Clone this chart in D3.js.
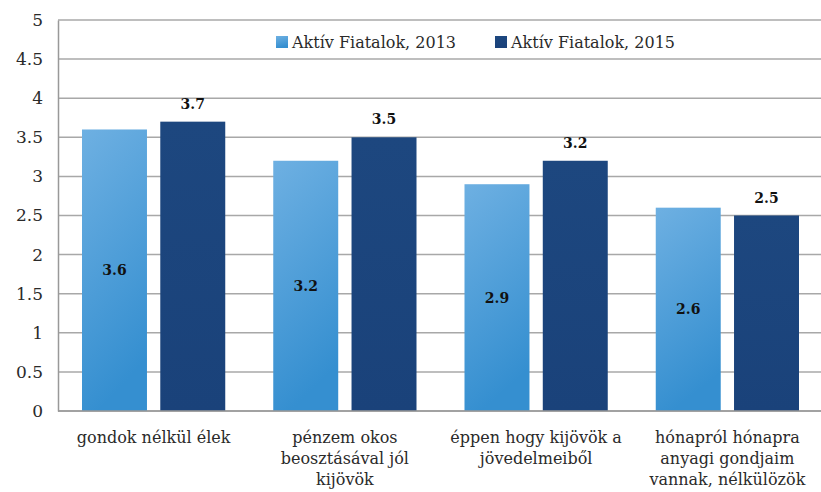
<!DOCTYPE html>
<html>
<head>
<meta charset="utf-8">
<script src="https://cdn.jsdelivr.net/npm/d3@7/dist/d3.min.js"></script>
<style>
html,body{margin:0;padding:0;background:#fff;}
svg{display:block;}
svg text{font-family:"DejaVu Serif", serif;}
</style>
</head>
<body>
<svg id="chart" width="821" height="492"></svg>
<script>
const categories = [
  ["gondok nélkül élek"],
  ["pénzem okos", "beosztásával jól", "kijövök"],
  ["éppen hogy kijövök a", "jövedelmeiből"],
  ["hónapról hónapra", "anyagi gondjaim", "vannak, nélkülözök"]
];
const seriesNames = ["Aktív Fiatalok, 2013", "Aktív Fiatalok, 2015"];
const values2013 = [3.6, 3.2, 2.9, 2.6];
const values2015 = [3.7, 3.5, 3.2, 2.5];
const yTicks = [0, 0.5, 1, 1.5, 2, 2.5, 3, 3.5, 4, 4.5, 5];

const svg = d3.select("#chart");
const font = "DejaVu Serif";
const margin = {left: 58, top: 20, right: -2, bottom: 81};
const W = 821, H = 492;
const x0 = margin.left, x1 = W - margin.right;
const yTop = margin.top, yBot = H - margin.bottom;

const keys = categories.map((c, i) => i);
const x = d3.scaleBand().domain(keys).range([x0, x1]).paddingInner(0).paddingOuter(0);
const xs = d3.scaleBand().domain([0, 1]).range([24, x.bandwidth() - 24]).paddingInner(0.17);
const y = d3.scaleLinear().domain([0, 5]).range([yBot, yTop]);

const defs = svg.append("defs");
const g1 = defs.append("linearGradient").attr("id", "gLight").attr("x1", 0).attr("y1", 0).attr("x2", 0.25).attr("y2", 1);
g1.append("stop").attr("offset", "0%").attr("stop-color", "#6eb0e2");
g1.append("stop").attr("offset", "100%").attr("stop-color", "#358fd0");
const g2 = defs.append("linearGradient").attr("id", "gDark").attr("x1", 0).attr("y1", 0).attr("x2", 0).attr("y2", 1);
g2.append("stop").attr("offset", "0%").attr("stop-color", "#1d477f");
g2.append("stop").attr("offset", "100%").attr("stop-color", "#1a427a");

// gridlines
svg.append("g").selectAll("line").data(yTicks).join("line")
  .attr("x1", x0).attr("x2", x1)
  .attr("y1", d => y(d)).attr("y2", d => y(d))
  .attr("stroke", "#a8a8a8").attr("stroke-width", 1.5);

// y axis
const yAxis = d3.axisLeft(y).tickValues(yTicks).tickSize(0).tickPadding(15).tickFormat(d3.format("~g"));
const ya = svg.append("g").attr("transform", `translate(${x0},0)`).call(yAxis);
ya.attr("font-family", font);
ya.select(".domain").attr("stroke", "#999").attr("stroke-width", 1.5);
ya.selectAll("text").style("font-family", font).attr("font-size", 17).attr("fill", "#2a2a2a");

// bars
const groups = svg.append("g").selectAll("g").data(keys).join("g")
  .attr("transform", d => `translate(${x(d)},0)`);
groups.append("rect")
  .attr("x", xs(0)).attr("width", xs.bandwidth())
  .attr("y", d => y(values2013[d])).attr("height", d => y(0) - y(values2013[d]))
  .attr("fill", "url(#gLight)");
groups.append("rect")
  .attr("x", xs(1)).attr("width", xs.bandwidth())
  .attr("y", d => y(values2015[d])).attr("height", d => y(0) - y(values2015[d]))
  .attr("fill", "url(#gDark)");

// labels
groups.append("text")
  .attr("x", xs(0) + xs.bandwidth() / 2)
  .attr("y", d => y(values2013[d] / 2))
  .attr("dy", "0.35em")
  .attr("text-anchor", "middle")
  .style("font-family", font).attr("font-size", 14).attr("font-weight", "bold").attr("fill", "#111")
  .text(d => d3.format(".1f")(values2013[d]));
groups.append("text")
  .attr("x", xs(1) + xs.bandwidth() / 2)
  .attr("y", d => y(values2015[d]) - 13)
  .attr("text-anchor", "middle")
  .style("font-family", font).attr("font-size", 14).attr("font-weight", "bold").attr("fill", "#111")
  .text(d => d3.format(".1f")(values2015[d]));

// bottom axis
svg.append("line").attr("x1", x0).attr("x2", x1).attr("y1", yBot).attr("y2", yBot)
  .attr("stroke", "#999").attr("stroke-width", 1.5);

// category labels
groups.each(function(d) {
  const t = d3.select(this).append("text")
    .attr("text-anchor", "middle")
    .style("font-family", font).attr("font-size", 16).attr("fill", "#2a2a2a");
  categories[d].forEach((line, i) => {
    t.append("tspan").attr("x", x.bandwidth() / 2).attr("y", yBot + 32 + i * 21).text(line);
  });
});

// legend
const legend = svg.append("g");
const legX = [276, 495];
const legY = 42;
legend.append("rect").attr("x", 268).attr("y", 28).attr("width", 430).attr("height", 28).attr("fill", "#fff");
seriesNames.forEach((name, i) => {
  legend.append("rect").attr("x", legX[i]).attr("y", legY - 6).attr("width", 12).attr("height", 12)
    .attr("fill", i === 0 ? "url(#gLight)" : "url(#gDark)");
  legend.append("text").attr("x", legX[i] + 16).attr("y", legY).attr("dy", "0.35em")
    .style("font-family", font).attr("font-size", 16).attr("fill", "#2a2a2a").text(name);
});
</script>
</body>
</html>
